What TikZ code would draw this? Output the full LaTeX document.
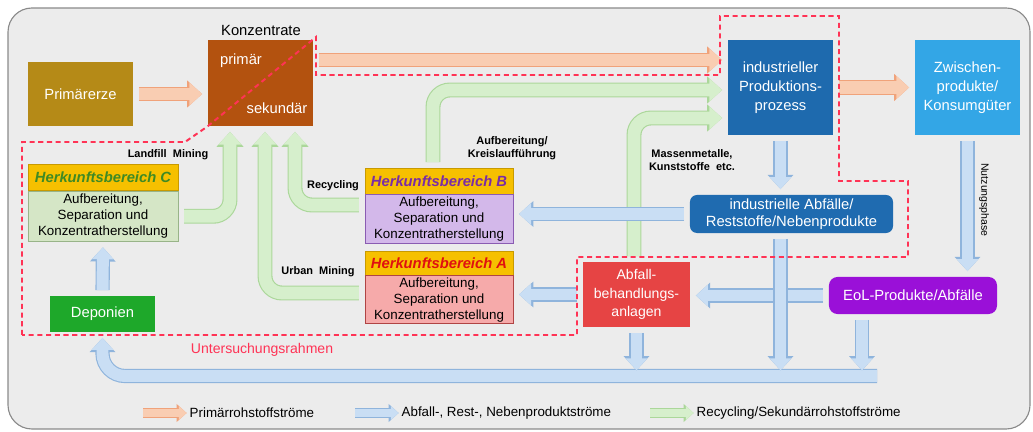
\documentclass[tikz,border=0pt]{standalone}
\usepackage{fontspec}
\setmainfont{Liberation Sans}
\usetikzlibrary{arrows.meta,positioning}
\definecolor{bgfill}{HTML}{ECECEC}
\definecolor{bgedge}{HTML}{8A8A8A}
\definecolor{primerz}{HTML}{B58A17}
\definecolor{konz}{HTML}{B3520F}
\definecolor{prodblue}{HTML}{1E6AAE}
\definecolor{zwblue}{HTML}{33A6E6}
\definecolor{abfblue}{HTML}{1F6BB0}
\definecolor{eolpurple}{HTML}{9A10D8}
\definecolor{abfred}{HTML}{E64444}
\definecolor{depgreen}{HTML}{1EA82A}
\definecolor{hdryellow}{HTML}{F6C000}
\definecolor{hdredge}{HTML}{C89A00}
\definecolor{herkC}{HTML}{D5E6C6}
\definecolor{herkCedge}{HTML}{98B488}
\definecolor{herkB}{HTML}{D3B8EA}
\definecolor{herkBedge}{HTML}{8A5CB2}
\definecolor{herkA}{HTML}{F6AAAA}
\definecolor{herkAedge}{HTML}{B04444}
\definecolor{hdrCtext}{HTML}{3F8A24}
\definecolor{hdrBtext}{HTML}{7A2CA6}
\definecolor{hdrAtext}{HTML}{E01010}
\definecolor{prfill}{HTML}{F9CDB2}
\definecolor{predge}{HTML}{F0A27A}
\definecolor{wsfill}{HTML}{C9DEF4}
\definecolor{wsedge}{HTML}{8FB4DC}
\definecolor{refill}{HTML}{D6EFCC}
\definecolor{reedge}{HTML}{ABD79A}
\definecolor{rahmen}{HTML}{FF3355}

\begin{document}
\begin{tikzpicture}[x=0.025cm,y=-0.025cm,
  box/.style={text=white,align=center,font=\fontsize{10.5}{13.5}\selectfont,inner sep=2pt},
  hdr/.style={fill=hdryellow,draw=hdredge,line width=0.5pt,font=\fontsize{10.5}{12}\selectfont\bfseries\itshape,minimum width=3.7cm,minimum height=0.65cm,inner sep=1pt},
  herk/.style={line width=0.6pt,align=center,font=\fontsize{9.5}{11.3}\selectfont,minimum width=3.7cm,inner sep=1pt},
  lbl/.style={font=\fontsize{7.8}{9.6}\selectfont\bfseries,align=center},
  legtext/.style={font=\fontsize{9.5}{11}\selectfont,anchor=west,inner sep=1pt},
  fatflow/.style n args={3}{line width=#3,draw=#1,preaction={draw=#2,line width=#3+1.6pt},
    -{Triangle[length=0pt 1,width=0pt 1.75]},shorten <=4pt,shorten >=4pt},
  prflow/.style={fatflow={prfill}{predge}{9pt}},
  wsflow/.style={fatflow={wsfill}{wsedge}{8.5pt}},
  reflow/.style={fatflow={refill}{reedge}{9pt},rounded corners=12pt},
  frame/.style={draw=rahmen,line width=1.4pt,dash pattern=on 3.6pt off 2.6pt}]
  \useasboundingbox (0,0) rectangle (1033,432);
  \fill[bgfill,draw=bgedge,line width=0.8pt,rounded corners=17pt] (8,8) rectangle (1030,429);

  % Boxes
  \node[box,fill=primerz,minimum width=2.625cm,minimum height=1.6cm] (prim) at (80.5,94) {Primärerze};
  \node[box,fill=konz,minimum width=2.625cm,minimum height=2.15cm] (konz) at (260.5,83) {};
  \node[box] (konzp) at (241,61) {primär};
  \node[box] (konzs) at (277,108) {sekundär};
  \node[font=\fontsize{10.5}{12}\selectfont] (konzlbl) at (261,30) {Konzentrate};
  \node[box,fill=prodblue,minimum width=2.625cm,minimum height=2.375cm] (prod) at (780.5,87.5) {industrieller\\Produktions-\\prozess};
  \node[box,fill=zwblue,minimum width=2.625cm,minimum height=2.375cm] (zwisch) at (967.5,87.5) {Zwischen-\\produkte/\\Konsumgüter};
  \node[box,fill=abfblue,rounded corners=5pt,minimum width=5.075cm,minimum height=0.95cm,font=\fontsize{10.5}{12.5}\selectfont] (indab) at (791.5,214) {industrielle Abfälle/\\Reststoffe/Nebenprodukte};
  \node[box,fill=eolpurple,rounded corners=6pt,minimum width=4.2cm,minimum height=0.925cm] (eol) at (913,295.5) {EoL-Produkte/Abfälle};
  \node[box,fill=abfred,minimum width=2.675cm,minimum height=1.625cm,font=\fontsize{10}{13}\selectfont] (abfall) at (636.5,294.5) {Abfall-\\behandlungs-\\anlagen};
  \node[box,fill=depgreen,minimum width=2.625cm,minimum height=0.9cm] (dep) at (102.5,314) {Deponien};

  % Herkunftsbereiche
  \node[hdr,text=hdrCtext,minimum width=3.75cm] (hdrC) at (103,177.5) {Herkunftsbereich C};
  \node[herk,fill=herkC,draw=herkCedge,minimum width=3.75cm,minimum height=1.25cm,below=0pt of hdrC] (bodyC) {Aufbereitung,\\Separation und\\Konzentratherstellung};
  \node[hdr,text=hdrBtext] (hdrB) at (439,181) {Herkunftsbereich B};
  \node[herk,fill=herkB,draw=herkBedge,minimum height=1.225cm,below=0pt of hdrB] (bodyB) {Aufbereitung,\\Separation und\\Konzentratherstellung};
  \node[hdr,text=hdrAtext,minimum height=0.6cm] (hdrA) at (439,263) {Herkunftsbereich A};
  \node[herk,fill=herkA,draw=herkAedge,minimum height=1.2cm,below=0pt of hdrA] (bodyA) {Aufbereitung,\\Separation und\\Konzentratherstellung};

  % Recycling flows
  \draw[reflow] (bodyC.east) -| (konz.south -| 230,0);
  \draw[reflow] (bodyA.west |- 0,293) -| (konz.south -| 265,0);
  \draw[reflow] (bodyB.west |- 0,205) -| (konz.south -| 295,0);
  \draw[reflow] (hdrB.north -| 433,0) |- (prod.west |- 0,90);
  \draw[reflow] (abfall.north -| 634,0) |- (prod.west |- 0,118);

  % Primary flows
  \draw[prflow] (prim.east) -- (prim.east -| konz.west);
  \draw[prflow] (konz.east |- 0,60) -- (prod.west |- 0,60);
  \draw[prflow] (prod.east) -- (zwisch.west);

  % Waste flows
  \coordinate (bar) at (0,376);
  \coordinate (barend) at (877,376);
  \draw[wsflow,shorten <=0pt,rounded corners=16pt] (barend) -| (dep.south);
  \draw[wsflow] (prod.south) -- (prod.south |- indab.north);
  \draw[wsflow] (zwisch.south) -- (zwisch.south |- eol.north);
  \draw[wsflow] (indab.west) -- (indab.west -| bodyB.east);
  \draw[wsflow] (eol.west) -- (eol.west -| abfall.east);
  \draw[wsflow] (abfall.west) -- (abfall.west -| bodyA.east);
  \draw[wsflow] (abfall.south) -- (abfall.south |- bar);
  \draw[wsflow] (indab.south -| prod.south) -- (prod.south |- bar);
  \draw[wsflow] (eol.south -| 862,0) -- (862,0 |- bar);
  \draw[wsflow] (dep.north) -- (bodyC.south);

  % Untersuchungsrahmen
  \draw[frame] (22,335) -- (22,142) -- (185,142) -- (konz.south west) -- (316,37) -- (316,75)
    -- (720,75) -- (720,16) -- (839,16) -- (839,181) -- (908,181) -- (908,257)
    -- (577,257) -- (577,335) -- cycle;
  \node[text=rahmen,font=\fontsize{10}{12}\selectfont] (rlbl) at (262,350) {Untersuchungsrahmen};

  % Labels
  \node[lbl] (landfill) at (168,155) {Landfill\ \ Mining};
  \node[lbl] (recyc) at (333,186) {Recycling};
  \node[lbl] (urban) at (318,272) {Urban\ \ Mining};
  \node[lbl] (kreis) at (512,148) {Aufbereitung/\\Kreislaufführung};
  \node[lbl] (massen) at (692,160) {Massenmetalle,\\Kunststoffe\ \ etc.};
  \node[font=\fontsize{7.5}{9}\selectfont,rotate=-90] (nutz) at (984,200) {Nutzungsphase};

  % Legend
  \node[legtext] (leg1) at (188,413) {Primärrohstoffströme};
  \node[legtext] (leg2) at (400,413) {Abfall-, Rest-, Nebenproduktströme};
  \node[legtext] (leg3) at (695,413) {Recycling/Sekundärrohstoffströme};
  \coordinate (leg1s) at (143,413);
  \coordinate (leg2s) at (355,413);
  \coordinate (leg3s) at (650,413);
  \draw[fatflow={prfill}{predge}{5.5pt},shorten <=0pt,shorten >=1pt] (leg1s) -- (leg1.west);
  \draw[fatflow={wsfill}{wsedge}{5.5pt},shorten <=0pt,shorten >=1pt] (leg2s) -- (leg2.west);
  \draw[fatflow={refill}{reedge}{5.5pt},shorten <=0pt,shorten >=1pt] (leg3s) -- (leg3.west);
\end{tikzpicture}
\end{document}
